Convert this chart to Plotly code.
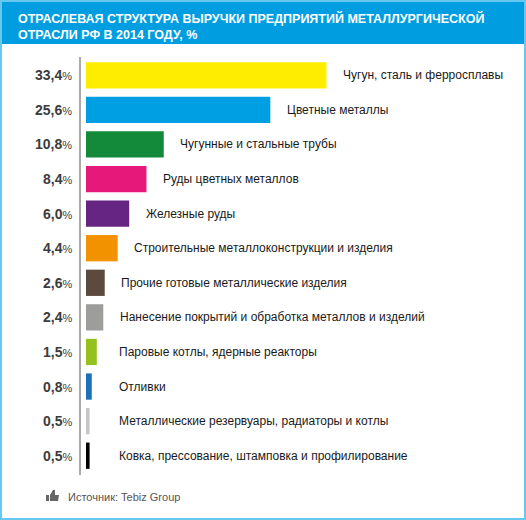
import plotly.graph_objects as go

categories = ["Чугун, сталь и ферросплавы", "Цветные металлы", "Чугунные и стальные трубы",
              "Руды цветных металлов", "Железные руды", "Строительные металлоконструкции и изделия",
              "Прочие готовые металлические изделия", "Нанесение покрытий и обработка металлов и изделий",
              "Паровые котлы, ядерные реакторы", "Отливки",
              "Металлические резервуары, радиаторы и котлы",
              "Ковка, прессование, штамповка и профилирование"]
values = [33.4, 25.6, 10.8, 8.4, 6.0, 4.4, 2.6, 2.4, 1.5, 0.8, 0.5, 0.5]
colors = ["#ffed00", "#009fe3", "#13893a", "#e6197b", "#662483", "#f39200",
          "#5d4a3f", "#9d9d9c", "#95c11f", "#1d71b8", "#c6c6c6", "#000000"]
title_lines = ["ОТРАСЛЕВАЯ СТРУКТУРА ВЫРУЧКИ ПРЕДПРИЯТИЙ МЕТАЛЛУРГИЧЕСКОЙ",
               "ОТРАСЛИ РФ В 2014 ГОДУ, %"]
source = "Источник: Tebiz Group"

W, H = 526, 520
L, T, B = 86, 58, 47
PW, PH = W - L, H - T - B
def px(x): return (x - L) / PW
def py(y): return 1 - (y - T) / PH

fig = go.Figure(go.Bar(
    x=values, y=list(range(len(values))), orientation="h",
    marker=dict(color=colors, line=dict(width=0)), width=0.76,
    hoverinfo="skip"))

ann = []
for i, (c, v) in enumerate(zip(categories, values)):
    ann.append(dict(x=max(v, 2.3) + 2, y=i, xref="x", yref="y", text=c, showarrow=False,
                    xanchor="left", font=dict(size=12, color="#1a1a1a")))
    s = f"{v:.1f}".replace(".", ",")
    ann.append(dict(x=px(74), y=i, xref="paper", yref="y", showarrow=False, xanchor="right",
                    text=f"<b>{s}</b><span style='font-size:11px'>%</span>",
                    font=dict(size=14, color="#3c3c3c")))
ann.append(dict(x=px(16), y=py(26), xref="paper", yref="paper", xanchor="left", yanchor="middle",
                showarrow=False, align="left", text="<b>" + "<br>".join(title_lines) + "</b>",
                font=dict(size=12.5, color="white", family="Liberation Sans")))
ann.append(dict(x=px(66), y=py(497), xref="paper", yref="paper", xanchor="left", yanchor="middle",
                showarrow=False, text=source, font=dict(size=11, color="#555555")))

shapes = [
    dict(type="rect", xref="paper", yref="paper", x0=px(0), x1=px(W), y0=py(44), y1=py(0),
         fillcolor="#009ee0", line=dict(width=0), layer="below"),
    dict(type="rect", xref="paper", yref="paper", x0=px(1), x1=px(W - 1), y0=py(H - 1), y1=py(1),
         line=dict(color="#66c8ef", width=2)),
    dict(type="line", xref="paper", yref="paper", x0=px(80), x1=px(80), y0=py(57), y1=py(475),
         line=dict(color="#555555", width=1)),
    dict(type="rect", xref="paper", yref="paper", x0=px(46), x1=px(49), y0=py(501), y1=py(495),
         fillcolor="#666666", line=dict(width=0)),
    dict(type="path", xref="paper", yref="paper",
         path=f"M {px(50)},{py(501)} L {px(58)},{py(501)} L {px(59)},{py(495)} L {px(55)},{py(495)} L {px(55)},{py(490)} L {px(53)},{py(490)} L {px(50)},{py(495)} Z",
         fillcolor="#666666", line=dict(width=0)),
]

fig.update_layout(
    width=W, height=H, margin=dict(l=L, r=0, t=T, b=B),
    paper_bgcolor="white", plot_bgcolor="white",
    font=dict(family="Liberation Sans"),
    xaxis=dict(range=[0, PW / 7.2], visible=False),
    yaxis=dict(range=[11.5, -0.5], visible=False),
    showlegend=False, annotations=ann, shapes=shapes, bargap=0.2)
fig.write_html("out.html", config={"displayModeBar": False},
               post_script="document.body.style.margin='0';document.body.style.overflow='hidden';")
